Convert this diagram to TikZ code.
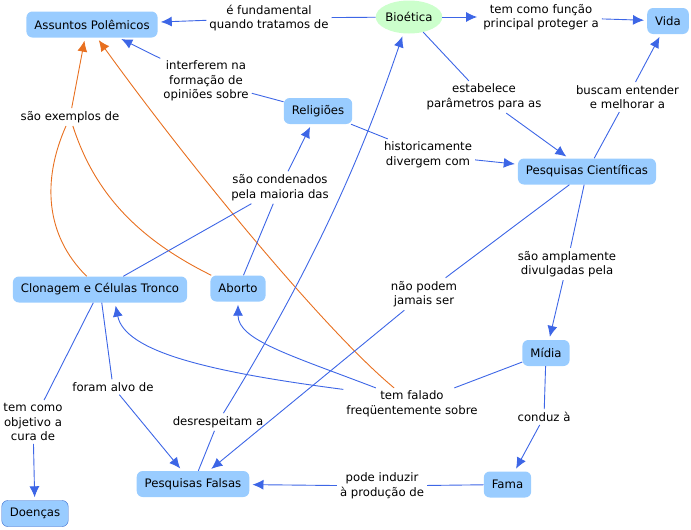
\documentclass[tikz,border=0pt]{standalone}
\usepackage{fontspec}
\setmainfont{DejaVu Sans}
\usetikzlibrary{shapes.geometric,arrows.meta,positioning}
\definecolor{cmapblue}{RGB}{153,204,255}
\definecolor{cmapgreen}{RGB}{204,255,204}
\definecolor{linkblue}{RGB}{61,102,230}
\definecolor{linkorange}{RGB}{232,112,32}
\definecolor{borderblue}{RGB}{51,102,204}
\newcommand{\cmapfont}{\fontsize{11.7}{14.5}\selectfont}
\tikzset{concept/.style = {rectangle, rounded corners = 6pt, fill = cmapblue, minimum height = 26pt, inner xsep = 8pt, font = \cmapfont},
         ethics/.style = {ellipse, fill = cmapgreen, minimum width = 66pt, minimum height = 33pt, inner sep = 0pt, font = \cmapfont},
         phrase/.style = {align = center, inner sep = 3pt, font = \cmapfont},
         link/.style = {draw = linkblue, line width = 0.9pt},
         linkarrow/.style = {link, ->, shorten > = 3pt},
         crosslink/.style = {draw = linkorange, line width = 0.9pt},
         crossarrow/.style = {crosslink, ->, shorten > = 3pt},
}

\begin{document}
\begin{tikzpicture}[x = 1pt, y = -1pt, >={Latex[length=11pt,width=10pt]}]
  \useasboundingbox (0,0) rectangle (691,530);

  \node[concept] (ASSUNTOS) at (92,24.5) {Assuntos Polêmicos};
  \node[ethics] (BIOETICA) at (409,17) {Bioética};
  \node[concept] (VIDA) at (668,21) {Vida};
  \node[concept] (RELIGIOES) at (318,111) {Religiões};
  \node[concept] (PCIENT) at (587,171.5) {Pesquisas Científicas};
  \node[concept] (CLONAGEM) at (100,289.5) {Clonagem e Células Tronco};
  \node[concept] (ABORTO) at (238,288.5) {Aborto};
  \node[concept] (MIDIA) at (546,353) {Mídia};
  \node[concept] (FAMA) at (507.5,484.5) {Fama};
  \node[concept] (PFALSAS) at (193,484) {Pesquisas Falsas};
  \node[concept, draw = borderblue] (DOENCAS) at (35,513.5) {Doenças};

  \node[phrase] (FUNDAMENTAL) at (269,18) {é fundamental\\quando tratamos de};
  \node[phrase] (FUNCAO) at (541,17) {tem como função\\principal proteger a};
  \node[phrase] (INTERFEREM) at (206,81) {interferem na\\formação de\\opiniões sobre};
  \node[phrase] (ESTABELECE) at (484,97) {estabelece\\parâmetros para as};
  \node[phrase] (BUSCAM) at (627.5,97) {buscam entender\\e melhorar a};
  \node[phrase] (DIVERGEM) at (428,155) {historicamente\\divergem com};
  \node[phrase] (EXEMPLOS) at (70,117) {são exemplos de};
  \node[phrase] (CONDENADOS) at (280,187.5) {são condenados\\pela maioria das};
  \node[phrase] (DIVULGADAS) at (567,264) {são amplamente\\divulgadas pela};
  \node[phrase] (JAMAIS) at (424,294) {não podem\\jamais ser};
  \node[phrase] (FALADO) at (412,404) {tem falado\\freqüentemente sobre};
  \node[phrase] (CONDUZ) at (544,417) {conduz à};
  \node[phrase] (INDUZIR) at (382,486) {pode induzir\\à produção de};
  \node[phrase] (ALVO) at (113,387) {foram alvo de};
  \node[phrase] (CURA) at (33,422) {tem como\\objetivo a\\cura de};
  \node[phrase] (DESRESPEITAM) at (218,422) {desrespeitam a};

  \draw[link] (BIOETICA) -- (FUNDAMENTAL);
  \draw[linkarrow] (FUNDAMENTAL) -- (ASSUNTOS);
  \draw[linkarrow] (BIOETICA) -- (FUNCAO);
  \draw[linkarrow] (FUNCAO) -- (VIDA);
  \draw[link] (BIOETICA) -- (ESTABELECE);
  \draw[linkarrow] (ESTABELECE) -- (PCIENT);
  \draw[link] (PCIENT) -- (BUSCAM);
  \draw[linkarrow] (BUSCAM) -- (VIDA);

  \draw[link] (RELIGIOES) -- (INTERFEREM);
  \draw[linkarrow] (INTERFEREM) -- (ASSUNTOS);
  \draw[link] (RELIGIOES) -- (DIVERGEM);
  \draw[linkarrow] (DIVERGEM) -- (PCIENT);

  \draw[crosslink] (CLONAGEM) .. controls (45,235) and (42,180) .. (EXEMPLOS);
  \draw[crosslink] (ABORTO) .. controls (140,240) and (95,195) .. (EXEMPLOS);
  \draw[crossarrow] (EXEMPLOS) -- ([xshift=-7pt]ASSUNTOS.south);
  \draw[crossarrow] (FALADO.138) .. controls (330,335) and (200,180) .. ([xshift=5pt]ASSUNTOS.south);

  \draw[link] (CLONAGEM) -- (CONDENADOS);
  \draw[link] (ABORTO) -- (CONDENADOS);
  \draw[linkarrow] (CONDENADOS) -- (RELIGIOES);

  \draw[link] (PCIENT) -- (DIVULGADAS);
  \draw[linkarrow] (DIVULGADAS) -- (MIDIA);
  \draw[link] (PCIENT) -- (JAMAIS);
  \draw[linkarrow] (JAMAIS) -- (PFALSAS);

  \draw[link] (MIDIA) -- (FALADO);
  \draw[linkarrow] (FALADO.168) .. controls (210,372) and (125,352) .. ([xshift=15pt]CLONAGEM.south);
  \draw[linkarrow] (FALADO.156) .. controls (290,355) and (238,340) .. (ABORTO.south);
  \draw[link] (MIDIA) -- (CONDUZ);
  \draw[linkarrow] (CONDUZ) -- (FAMA);
  \draw[link] (FAMA) -- (INDUZIR);
  \draw[linkarrow] (INDUZIR) -- (PFALSAS);

  \draw[link] (CLONAGEM) -- (ALVO);
  \draw[linkarrow] (ALVO) -- (PFALSAS);
  \draw[link] (CLONAGEM) -- (CURA);
  \draw[linkarrow] (CURA) -- (DOENCAS);
  \draw[link] (PFALSAS) -- (DESRESPEITAM);
  \draw[linkarrow] (DESRESPEITAM) .. controls (330,240) and (372,125) .. (BIOETICA);

\end{tikzpicture}
\end{document}
